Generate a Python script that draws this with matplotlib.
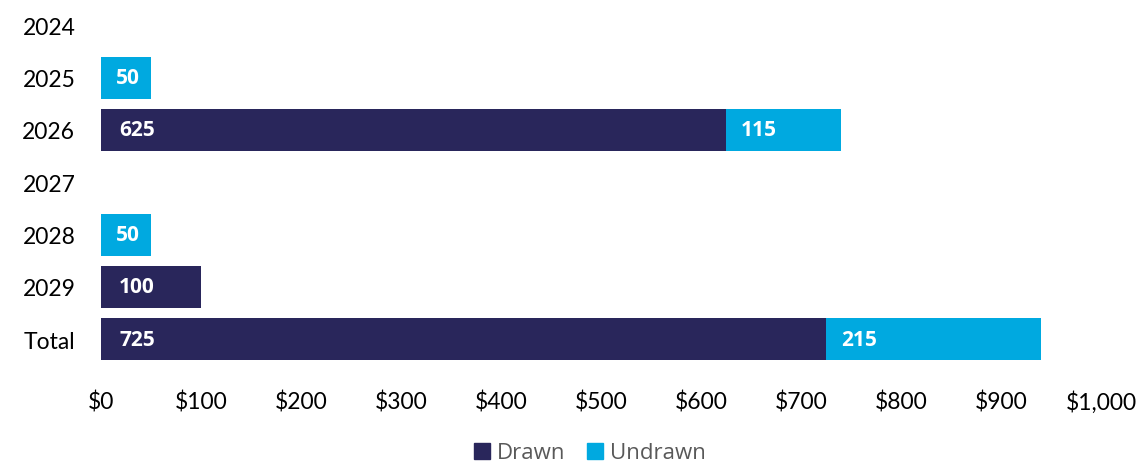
import numpy as np
import matplotlib.pyplot as plt
from matplotlib.patches import Patch
from matplotlib.transforms import blended_transform_factory

# data
categories = ['2024', '2025', '2026', '2027', '2028', '2029', 'Total']
drawn = [0, 0, 625, 0, 0, 100, 725]
undrawn = [0, 50, 115, 0, 50, 0, 215]
xticks = [0, 100, 200, 300, 400, 500, 600, 700, 800, 900, 1000]

drawn_color = '#29265B'
undrawn_color = '#00A9E0'

fig = plt.figure(figsize=(11.4, 4.64), dpi=100)
ax = fig.add_axes([101/1140, (464-366.5)/464, 1000/1140, 366.4/464])

y = np.arange(len(categories))
ax.barh(y, drawn, height=0.8, color=drawn_color, label='Drawn')
ax.barh(y, undrawn, left=drawn, height=0.8, color=undrawn_color, label='Undrawn')

# value labels inside the bars, left aligned
for i in range(len(categories)):
    if drawn[i] > 0:
        ax.annotate(str(drawn[i]), (0, y[i]), xytext=(13, 0), textcoords='offset points',
                    ha='left', va='center', color='white', fontsize=15,
                    fontweight='bold', family='Open Sans')
    if undrawn[i] > 0:
        ax.annotate(str(undrawn[i]), (drawn[i], y[i]), xytext=(11, 0), textcoords='offset points',
                    ha='left', va='center', color='white', fontsize=15,
                    fontweight='bold', family='Open Sans')

ax.set_xlim(0, 1000)
ax.set_ylim(6.5, -0.5)
ax.tick_params(axis='y', length=0, pad=18.5)
ax.set_yticks(y)
ax.set_yticklabels(categories, family='Lato', fontsize=16.5)

# x tick labels drawn as text so they share one baseline
ax.set_xticks(xticks)
ax.tick_params(axis='x', length=0, labelbottom=False)
trans = blended_transform_factory(ax.transData, ax.transAxes)
for v in xticks:
    ax.annotate('$' + format(v, ','), (v, 0), xycoords=trans, xytext=(0, -31),
                textcoords='offset points', ha='center', va='baseline',
                family='Lato', fontsize=16.5, annotation_clip=False)

for s in ax.spines.values():
    s.set_visible(False)

handles = [Patch(color=drawn_color, label='Drawn'), Patch(color=undrawn_color, label='Undrawn')]
leg = fig.legend(handles=handles, loc='center', bbox_to_anchor=(590/1140, 10/464), ncol=2,
                 frameon=False, handlelength=0.7, handleheight=0.7, handletextpad=0.3,
                 columnspacing=1.0, prop={'family': 'Open Sans', 'size': 16})
for t in leg.get_texts():
    t.set_color('#595959')

plt.savefig('out.png', dpi=100)
